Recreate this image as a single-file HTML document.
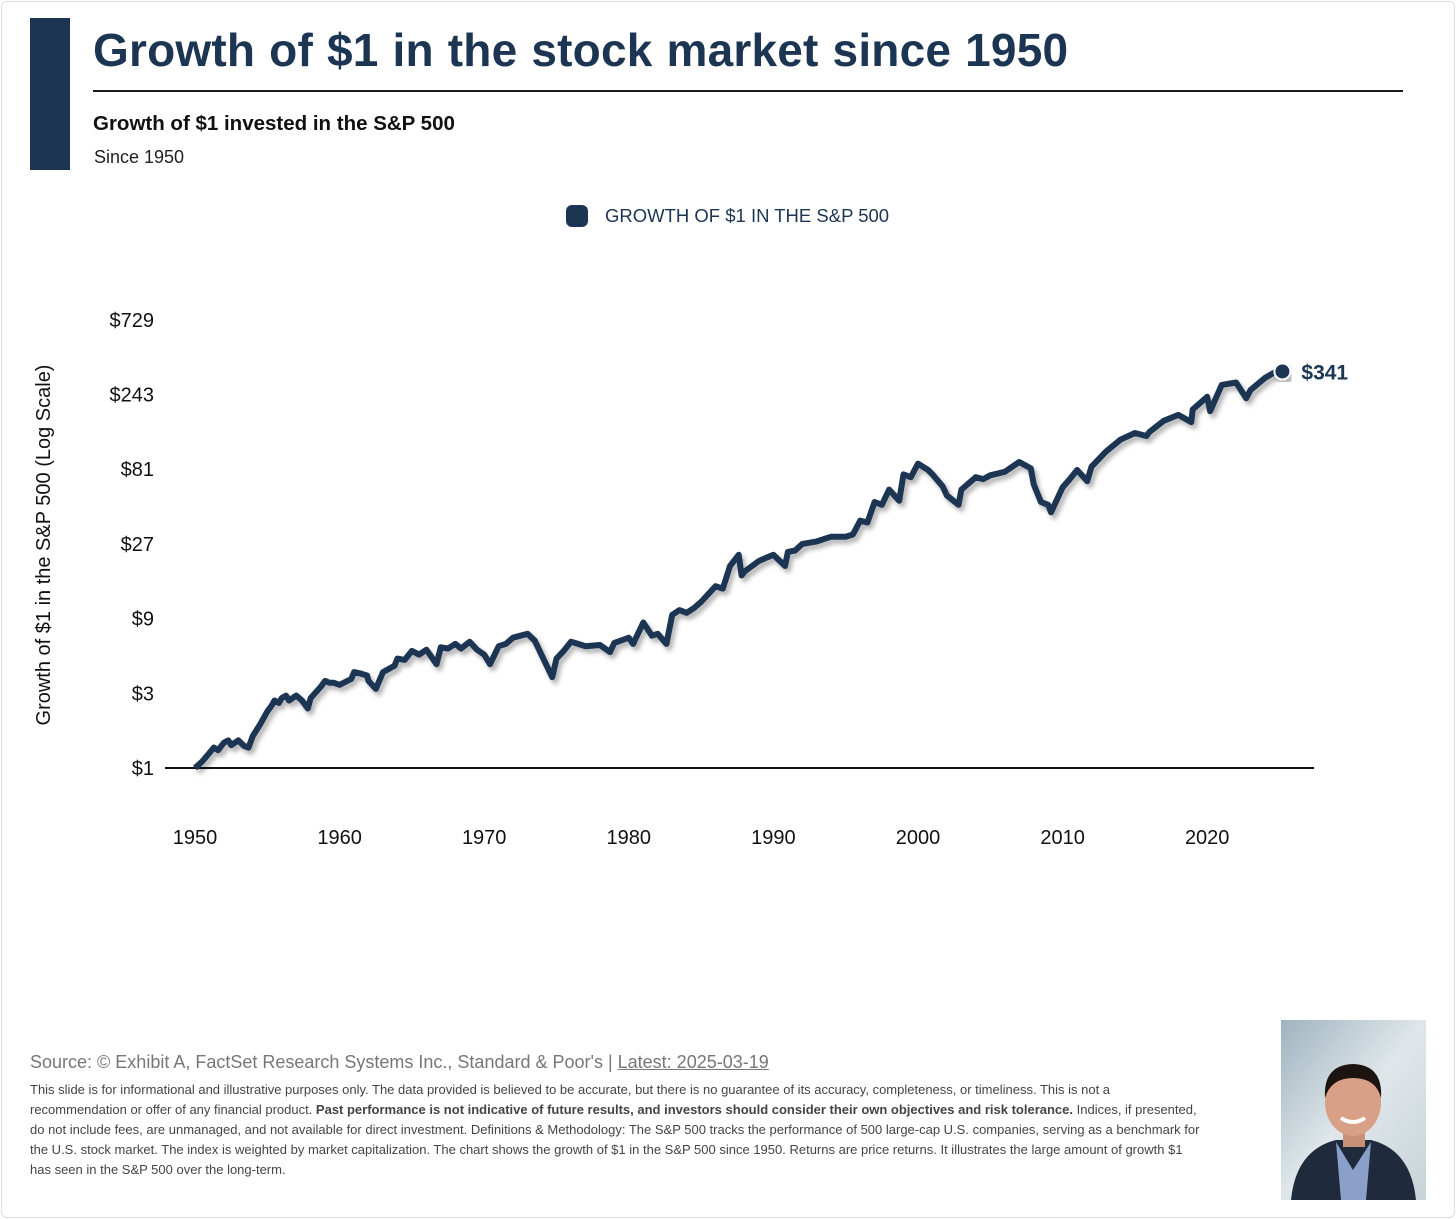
<!DOCTYPE html>
<html><head><meta charset="utf-8">
<style>
body{margin:0;width:1456px;height:1219px;background:#fff;font-family:"Liberation Sans",sans-serif;position:relative;overflow:hidden}
.abs{position:absolute}
</style></head><body>
<div class="abs" style="left:1px;top:1px;width:1452px;height:1215px;border:1px solid #ddd;border-radius:6px"></div>
<div class="abs" style="left:30px;top:18px;width:40px;height:152px;background:#1c3553"></div>
<div class="abs" style="left:93px;top:23px;font-size:46px;font-weight:bold;color:#1c3553;letter-spacing:0.2px;word-spacing:1px">Growth of $1 in the stock market since 1950</div>
<div class="abs" style="left:93px;top:90px;width:1310px;height:2px;background:#1a1a1a"></div>
<div class="abs" style="left:93px;top:112px;font-size:20.5px;font-weight:bold;color:#111">Growth of $1 invested in the S&amp;P 500</div>
<div class="abs" style="left:94px;top:147px;font-size:18px;color:#222">Since 1950</div>
<div class="abs" style="left:566px;top:205px;font-size:18.5px;color:#1c3553;display:flex;align-items:center">
<span style="width:22px;height:22px;border-radius:6px;background:#1c3553;display:inline-block;margin-right:17px"></span>GROWTH OF $1 IN THE S&amp;P 500</div>
<svg class="abs" style="left:0;top:0" width="1456" height="1000">
<defs><filter id="sh" x="-5%" y="-5%" width="110%" height="120%"><feDropShadow dx="3" dy="4" stdDeviation="2.5" flood-color="#000" flood-opacity="0.3"/></filter></defs>
<g id="yticks"></g><g id="xticks"></g>
<line x1="165" y1="768" x2="1314" y2="768" stroke="#111" stroke-width="2"/>
<path id="line" fill="none" stroke="#1c3553" stroke-width="6" stroke-linejoin="round" filter="url(#sh)"/>
<circle id="dot" r="8" fill="#1c3553" stroke="#fff" stroke-width="2" filter="url(#sh)"/>
<text id="lbl" font-size="21" font-weight="bold" fill="#1c3553" font-family="Liberation Sans">$341</text>
<text transform="translate(50,545) rotate(-90)" text-anchor="middle" font-size="20" fill="#111" font-family="Liberation Sans">Growth of $1 in the S&amp;P 500 (Log Scale)</text>
</svg>
<div class="abs" style="left:30px;top:1052px;font-size:18px;color:#777">Source: © Exhibit A, FactSet Research Systems Inc., Standard &amp; Poor's | <u>Latest: 2025-03-19</u></div>
<div class="abs" style="left:30px;top:1080px;width:1175px;font-size:13px;line-height:20px;color:#444">This slide is for informational and illustrative purposes only. The data provided is believed to be accurate, but there is no guarantee of its accuracy, completeness, or timeliness. This is not a recommendation or offer of any financial product. <b>Past performance is not indicative of future results, and investors should consider their own objectives and risk tolerance.</b> Indices, if presented, do not include fees, are unmanaged, and not available for direct investment. Definitions &amp; Methodology: The S&amp;P 500 tracks the performance of 500 large-cap U.S. companies, serving as a benchmark for the U.S. stock market. The index is weighted by market capitalization. The chart shows the growth of $1 in the S&amp;P 500 since 1950. Returns are price returns. It illustrates the large amount of growth $1 has seen in the S&amp;P 500 over the long-term.</div>
<svg class="abs" style="left:1281px;top:1020px" width="145" height="180">
<defs><linearGradient id="bg" x1="0" y1="0" x2="1" y2="1"><stop offset="0" stop-color="#9fb3bf"/><stop offset="0.5" stop-color="#dfe7ea"/><stop offset="1" stop-color="#c8d3d8"/></linearGradient></defs>
<rect width="145" height="180" fill="url(#bg)"/>
<path d="M10 180 Q15 130 55 120 L90 120 Q130 130 135 180Z" fill="#1f2a3d"/>
<path d="M55 122 L72 150 L90 122 L85 180 L60 180Z" fill="#8aa0c8"/>
<rect x="62" y="105" width="22" height="22" fill="#c99078"/>
<ellipse cx="72" cy="82" rx="28" ry="34" fill="#d8a086"/>
<path d="M44 78 Q42 45 72 44 Q102 45 100 78 Q95 58 72 58 Q50 58 44 78Z" fill="#1c1410"/>
<path d="M60 98 Q72 106 84 98" stroke="#fff" stroke-width="4" fill="none"/>
</svg>
<script>
const years=[1950,1950.5,1951,1951.3,1951.6,1952,1952.3,1952.5,1953,1953.4,1953.7,1954,1954.5,1955,1955.3,1955.5,1955.8,1956,1956.3,1956.5,1957,1957.4,1957.8,1958,1958.7,1959,1959.3,1959.6,1960,1960.8,1961,1961.5,1961.9,1962,1962.5,1963,1963.8,1964,1964.5,1965,1965.5,1966,1966.7,1967,1967.5,1968,1968.4,1969,1969.5,1970,1970.4,1971,1971.5,1972,1972.5,1973,1973.5,1974,1974.7,1975,1975.5,1976,1976.5,1977,1978,1978.7,1979,1980,1980.3,1981,1981.6,1982,1982.6,1983,1983.5,1984,1984.5,1985,1986,1986.5,1987,1987.6,1987.8,1988,1989,1989.5,1990,1990.8,1991,1991.5,1992,1993,1994,1995,1995.5,1996,1996.5,1997,1997.5,1998,1998.7,1999,1999.5,2000,2000.7,2001,2001.7,2002,2002.8,2003,2004,2004.5,2005,2006,2007,2007.8,2008,2008.5,2009,2009.2,2010,2010.5,2011,2011.7,2012,2013,2014,2015,2015.8,2016,2017,2018,2018.9,2019,2020,2020.2,2021,2022,2022.7,2023,2024,2024.5,2025,2025.2];
const values=[1.0,1.1,1.25,1.35,1.3,1.45,1.5,1.4,1.5,1.38,1.35,1.6,1.9,2.3,2.5,2.7,2.6,2.8,2.9,2.7,2.9,2.7,2.4,2.8,3.3,3.6,3.5,3.5,3.4,3.7,4.1,4.0,3.9,3.6,3.2,4.1,4.5,5.0,4.9,5.6,5.3,5.7,4.6,5.9,5.8,6.2,5.8,6.4,5.7,5.3,4.6,6.0,6.2,6.8,7.0,7.2,6.5,5.2,3.8,5.0,5.6,6.4,6.2,6.0,6.1,5.5,6.3,6.8,6.2,8.5,7.0,7.2,6.2,9.5,10.2,9.8,10.5,11.5,14.5,14.0,19.5,23,17,18,21,22,23,19.5,24,24.5,27,28,30,30,31,38,37,50,48,60,51,75,72,88,80,75,63,55,48,60,72,70,74,78,90,82,65,50,48,43,62,70,80,68,84,105,125,138,132,140,165,180,162,195,235,190,280,290,230,260,310,330,350,341];
const yTicks=[1,3,9,27,81,243,729];
const xTicks=[1950,1960,1970,1980,1990,2000,2010,2020];
const ns="http://www.w3.org/2000/svg";
function xs(y){return 195+(y-1950)*14.46}
function ys(v){return 768-Math.log(v)/Math.log(3)*74.7}
const yg=document.getElementById('yticks');
yTicks.forEach(v=>{const t=document.createElementNS(ns,'text');
t.setAttribute('x',154);t.setAttribute('y',ys(v)+7);t.setAttribute('text-anchor','end');
t.setAttribute('font-size','20');t.setAttribute('fill','#111');t.setAttribute('font-family','Liberation Sans');
t.textContent='$'+v;


yg.appendChild(t);});
const xg=document.getElementById('xticks');
xTicks.forEach(v=>{const t=document.createElementNS(ns,'text');
t.setAttribute('x',xs(v));t.setAttribute('y',844);t.setAttribute('text-anchor','middle');
t.setAttribute('font-size','20');t.setAttribute('fill','#111');t.setAttribute('font-family','Liberation Sans');
t.textContent=v;


xg.appendChild(t);});
document.getElementById('line').setAttribute('d',years.map((y,i)=>(i?'L':'M')+xs(y).toFixed(1)+' '+ys(values[i]).toFixed(1)).join(' '));
const ly=years[years.length-1],lv=values[values.length-1];
const d=document.getElementById('dot');d.setAttribute('cx',xs(ly));d.setAttribute('cy',ys(lv));
const l=document.getElementById('lbl');l.setAttribute('x',xs(ly)+19);l.setAttribute('y',ys(lv)+8);l.textContent='$'+lv;
</script>
</body></html>
